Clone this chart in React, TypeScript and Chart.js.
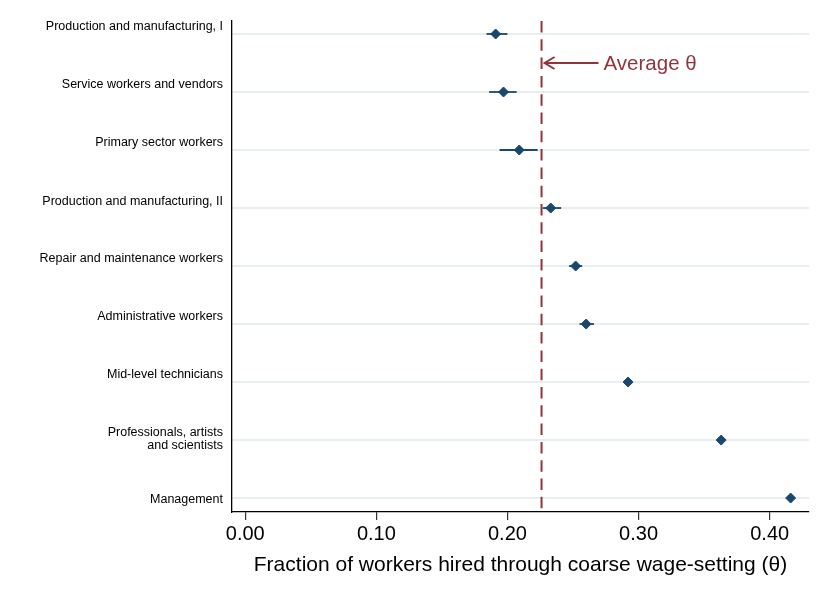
import React, { useEffect, useRef } from 'react';
import { Chart, registerables } from 'chart.js';

Chart.register(...registerables);

const categories: (string | string[])[] = [
  'Production and manufacturing, I',
  'Service workers and vendors',
  'Primary sector workers',
  'Production and manufacturing, II',
  'Repair and maintenance workers',
  'Administrative workers',
  'Mid-level technicians',
  ['Professionals, artists', 'and scientists'],
  'Management',
];
const theta = [0.191, 0.197, 0.209, 0.233, 0.252, 0.260, 0.292, 0.363, 0.416];
const ciLow = [0.184, 0.186, 0.194, 0.227, 0.247, 0.255, 0.289, 0.360, 0.414];
const ciHigh = [0.200, 0.207, 0.223, 0.241, 0.257, 0.266, 0.295, 0.365, 0.418];
const averageTheta = 0.226;
const xTicks = [0, 0.1, 0.2, 0.3, 0.4];

const NAVY = '#1a476f';
const CRANBERRY = '#90353b';
const FONT = '"Liberation Sans", Arial, Helvetica, sans-serif';
const Y_MIN = -0.224;
const Y_MAX = 8.24;

// y の目盛りラベル（Stata 風に少し上にずらす）
const yLabelPlugin = {
  id: 'yLabels',
  afterDraw(chart: Chart) {
    const { ctx, chartArea } = chart;
    const y = chart.scales.y;
    const shift = [-7.5, -7.5, -7.5, -6.5, -7.5, -7.7, -8, -1, 1];
    ctx.save();
    ctx.font = `12.5px ${FONT}`;
    ctx.fillStyle = '#000';
    ctx.textAlign = 'right';
    ctx.textBaseline = 'middle';
    categories.forEach((c, i) => {
      const lines = Array.isArray(c) ? c : [c];
      const cy = y.getPixelForValue(i) + shift[i];
      const lh = 13.2;
      lines.forEach((t, j) => {
        ctx.fillText(t, chartArea.left - 9, cy + (j - (lines.length - 1) / 2) * lh);
      });
    });
    ctx.restore();
  },
};

// 平均線の注記（矢印 + テキスト）
const averageNotePlugin = {
  id: 'averageNote',
  afterDraw(chart: Chart) {
    const { ctx } = chart;
    const px = chart.scales.x.getPixelForValue(averageTheta);
    const py = chart.scales.y.getPixelForValue(0.5);
    const x0 = px + 3;
    const x1 = px + 57;
    ctx.save();
    ctx.strokeStyle = CRANBERRY;
    ctx.lineWidth = 2;
    ctx.beginPath();
    ctx.moveTo(x1, py);
    ctx.lineTo(x0 + 1, py);
    ctx.moveTo(x0 + 10, py - 6);
    ctx.lineTo(x0, py);
    ctx.lineTo(x0 + 10, py + 6);
    ctx.stroke();
    ctx.fillStyle = CRANBERRY;
    ctx.font = `20.5px ${FONT}`;
    ctx.textAlign = 'left';
    ctx.textBaseline = 'middle';
    ctx.fillText('Average θ', x1 + 5, py + 1);
    ctx.restore();
  },
};

export default function App() {
  const canvasRef = useRef<HTMLCanvasElement | null>(null);

  useEffect(() => {
    document.body.style.margin = '0';
    const canvas = canvasRef.current;
    if (!canvas) return;

    const ciSets = theta.map((_, i) => ({
      type: 'scatter' as const,
      data: [
        { x: ciLow[i], y: i },
        { x: ciHigh[i], y: i },
      ],
      showLine: true,
      borderColor: NAVY,
      borderWidth: 1.8,
      pointRadius: 0,
      order: 1,
    }));

    const chart = new Chart(canvas, {
      type: 'scatter',
      data: {
        datasets: [
          {
            data: theta.map((v, i) => ({ x: v, y: i })),
            pointStyle: 'rectRot',
            pointRadius: 5,
            backgroundColor: NAVY,
            borderColor: NAVY,
            borderWidth: 1,
            order: 0,
          },
          ...ciSets,
          {
            data: [
              { x: averageTheta, y: Y_MIN },
              { x: averageTheta, y: Y_MAX },
            ],
            showLine: true,
            borderColor: CRANBERRY,
            borderWidth: 2,
            borderDash: [11.5, 6.8],
            pointRadius: 0,
            order: 2,
          },
        ],
      },
      options: {
        animation: false,
        responsive: true,
        maintainAspectRatio: false,
        layout: { padding: { left: 0, right: 21, top: 21, bottom: 0 } },
        plugins: { legend: { display: false }, tooltip: { enabled: false } },
        scales: {
          x: {
            type: 'linear',
            min: -0.0101,
            max: 0.43,
            afterBuildTicks: (s) => {
              s.ticks = xTicks.map((v) => ({ value: v }));
            },
            afterFit: (s) => {
              s.height = 92;
            },
            ticks: {
              padding: 2,
              color: '#000',
              font: { family: FONT, size: 20 },
              callback: (v) => Number(v).toFixed(2),
            },
            grid: { drawOnChartArea: false, drawTicks: true, tickLength: 8, color: '#333', lineWidth: 1.2 },
            border: { color: '#000', width: 1.3 },
            title: {
              display: true,
              text: 'Fraction of workers hired through coarse wage-setting (θ)',
              color: '#000',
              font: { family: FONT, size: 21 },
              padding: { top: 4, bottom: 26 },
            },
          },
          y: {
            type: 'linear',
            reverse: true,
            min: Y_MIN,
            max: Y_MAX,
            afterBuildTicks: (s) => {
              s.ticks = categories.map((_, i) => ({ value: i }));
            },
            afterFit: (s) => {
              s.width = 232;
            },
            ticks: { display: false },
            grid: { color: '#e6eef2', lineWidth: 2, drawTicks: false },
            border: { color: '#000', width: 1.3 },
          },
        },
      },
      plugins: [yLabelPlugin, averageNotePlugin],
    });

    return () => {
      chart.destroy();
    };
  }, []);

  return (
    <div style={{ position: 'relative', width: 830, height: 604 }}>
      <canvas ref={canvasRef} />
    </div>
  );
}
